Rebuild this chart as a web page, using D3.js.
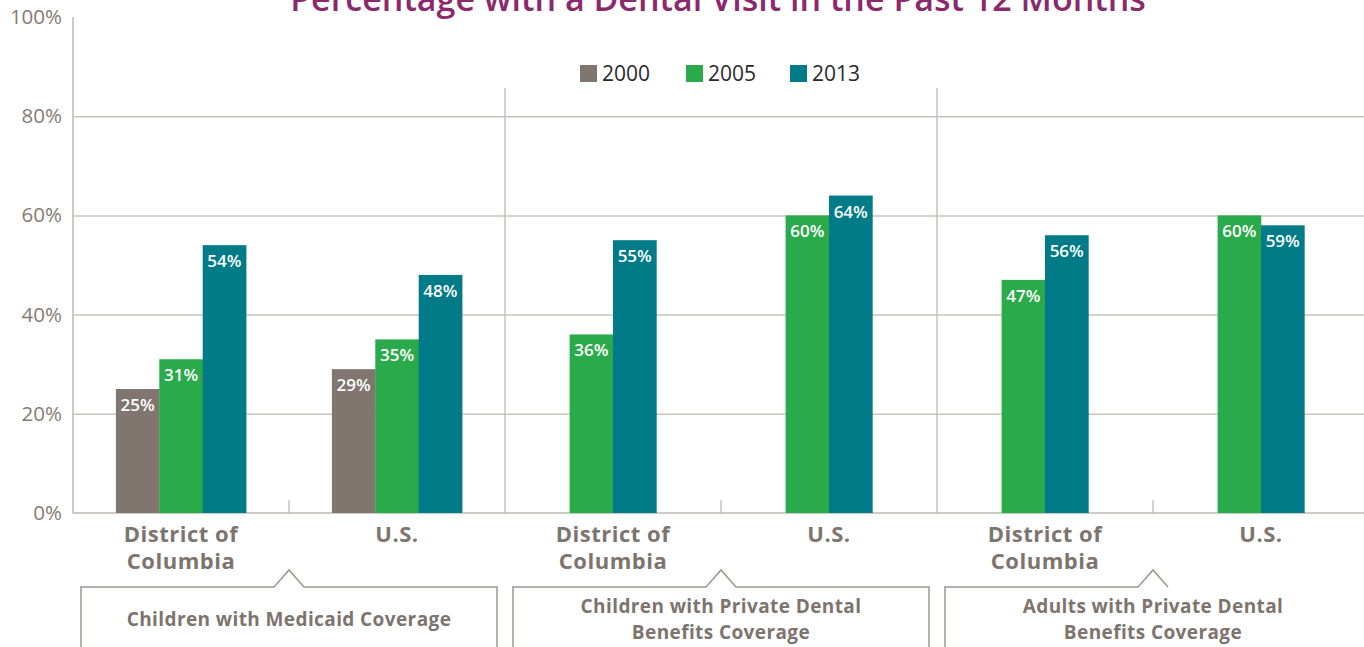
<!DOCTYPE html>
<html lang="en">
<head>
	<meta charset="UTF-8">
	<title>Dental visits</title>
	<style>
		body { margin: 0; background: #fff; }
		.title { font-family: "Open Sans", sans-serif; font-weight: 600; font-size: 34px; fill: #8a2a6d; }
		.legend text { font-family: "Open Sans", sans-serif; font-size: 21px; fill: #2a2a2a; }
		.yAxis text { font-family: "Open Sans", sans-serif; font-size: 20.5px; fill: #857b75; }
		.grid line { stroke: #c9c3be; stroke-width: 1.5px; }
		.cat { font-family: "Open Sans", sans-serif; font-weight: 700; font-size: 22px; letter-spacing: 0.5px; fill: #7d746e; }
		.val { font-family: "Open Sans", sans-serif; font-weight: 600; font-size: 17px; fill: #fff; }
		.box { fill: #fff; stroke: #9e958f; stroke-width: 1.5px; }
		.boxText { font-family: "Open Sans", sans-serif; font-weight: 700; font-size: 19px; letter-spacing: 0.4px; fill: #7d746e; }
	</style>
	<script src="https://d3js.org/d3.v7.min.js"></script>
</head>
<body>
	<script type="text/javascript">

		// data
		const categories = [["District of", "Columbia"], ["U.S."], ["District of", "Columbia"], ["U.S."], ["District of", "Columbia"], ["U.S."]];
		const groupNames = [["Children with Medicaid Coverage"], ["Children with Private Dental", "Benefits Coverage"], ["Adults with Private Dental", "Benefits Coverage"]];
		const years = ["2000", "2005", "2013"];
		const v2000 = [25, 29, null, null, null, null];
		const v2005 = [31, 35, 36, 60, 47, 60];
		const v2013 = [54, 48, 55, 64, 56, 58];
		// printed labels (the last 2013 bar is labelled 59% though drawn a bit lower)
		const lab2013 = [54, 48, 55, 64, 56, 59];
		const yTicks = [0, 20, 40, 60, 80, 100];
		const colors = ["#80766f", "#2aaa4a", "#007b87"];

		const w = 1364, h = 647;
		const padLeft = 73, axisBottom = 513, axisTop = 17;

		const svg = d3.select("body").append("svg")
			.attr("width", w).attr("height", h);

		const x0 = d3.scaleBand()
			.domain(d3.range(categories.length))
			.range([padLeft, padLeft + 216 * 6]);

		const y = d3.scaleLinear().domain([0, 100]).range([axisBottom, axisTop]);
		const barW = 43.4;

		// grid lines
		svg.append("g")
		   .attr("class", "grid")
		   .attr("transform", "translate(" + padLeft + ",0)")
		   .call(d3.axisRight(y).tickValues(yTicks.filter(d => d > 0 && d < 100)).tickSize(w - padLeft).tickFormat(""))
		   .call(g => g.select(".domain").remove());

		// y axis labels
		svg.append("g")
		   .attr("class", "yAxis")
		   .attr("transform", "translate(" + padLeft + ",0)")
		   .call(d3.axisLeft(y).tickValues(yTicks).tickSize(0).tickPadding(11).tickFormat(d => d + "%"))
		   .call(g => g.select(".domain").remove());

		// y axis and baseline
		svg.append("line").attr("x1", padLeft).attr("x2", padLeft).attr("y1", axisTop).attr("y2", axisBottom)
		   .attr("stroke", "#c0b9b4").attr("stroke-width", 1.5);
		svg.append("line").attr("x1", padLeft).attr("x2", w).attr("y1", axisBottom).attr("y2", axisBottom)
		   .attr("stroke", "#c0b9b4").attr("stroke-width", 1.5);

		// group separators & small ticks
		for (let i = 1; i < categories.length; i++) {
			const xx = x0(i);
			const sep = i % 2 === 0;
			svg.append("line").attr("x1", xx).attr("x2", xx)
			   .attr("y1", sep ? 88 : 500).attr("y2", axisBottom)
			   .attr("stroke", "#c0b9b4").attr("stroke-width", 1.3);
		}

		// bars
		const series = [v2000, v2005, v2013];
		const bars = [];
		categories.forEach((c, i) => {
			const present = series.map((s, k) => k).filter(k => series[k][i] != null);
			const start = x0(i) + x0.bandwidth() / 2 - present.length * barW / 2;
			present.forEach((k, j) => {
				bars.push({ i: i, k: k, v: series[k][i], x: start + j * barW,
					label: (k === 2 ? lab2013[i] : series[k][i]) + "%" });
			});
		});

		svg.append("g").selectAll("rect")
		   .data(bars).enter()
		   .append("rect")
		   .attr("x", d => d.x)
		   .attr("y", d => y(d.v))
		   .attr("width", barW + 0.3)
		   .attr("height", d => axisBottom - y(d.v))
		   .attr("fill", d => colors[d.k]);

		svg.append("g").selectAll("text")
		   .data(bars).enter()
		   .append("text")
		   .attr("class", "val")
		   .attr("x", d => d.x + barW / 2)
		   .attr("y", d => y(d.v) + 22)
		   .attr("text-anchor", "middle")
		   .text(d => d.label);

		// title
		svg.append("text")
		   .attr("class", "title")
		   .attr("x", 718).attr("y", 11)
		   .attr("text-anchor", "middle")
		   .text("Percentage with a Dental Visit in the Past 12 Months");

		// legend
		const legend = svg.append("g").attr("class", "legend");
		const legX = [580, 686, 790];
		years.forEach((yr, k) => {
			legend.append("rect").attr("x", legX[k]).attr("y", 65).attr("width", 17).attr("height", 17).attr("fill", colors[k]);
			legend.append("text").attr("x", legX[k] + 22).attr("y", 81).text(yr);
		});

		// category labels
		categories.forEach((lines, i) => {
			const cx = x0(i) + x0.bandwidth() / 2;
			const t = svg.append("text").attr("class", "cat")
			   .attr("text-anchor", "middle")
			   .attr("y", 542);
			lines.forEach((ln, j) => {
				t.append("tspan").attr("x", cx).attr("dy", j === 0 ? 0 : 27).text(ln);
			});
		});

		// group boxes with pointer
		groupNames.forEach((lines, g) => {
			const gx0 = x0(g * 2) + 8, gx1 = x0(g * 2 + 2) - 8;
			const cx = x0(g * 2 + 1);
			const bt = 587;
			const path = d3.path();
			path.moveTo(gx0, h + 5);
			path.lineTo(gx0, bt);
			path.lineTo(cx - 15, bt);
			path.lineTo(cx, 570);
			path.lineTo(cx + 15, bt);
			path.lineTo(gx1, bt);
			path.lineTo(gx1, h + 5);
			svg.append("path").attr("class", "box").attr("d", path.toString());

			const t = svg.append("text").attr("class", "boxText").attr("text-anchor", "middle")
			   .attr("y", lines.length === 1 ? 626 : 613);
			lines.forEach((ln, j) => {
				t.append("tspan").attr("x", cx).attr("dy", j === 0 ? 0 : 26).text(ln);
			});
		});

	</script>
</body>
</html>
